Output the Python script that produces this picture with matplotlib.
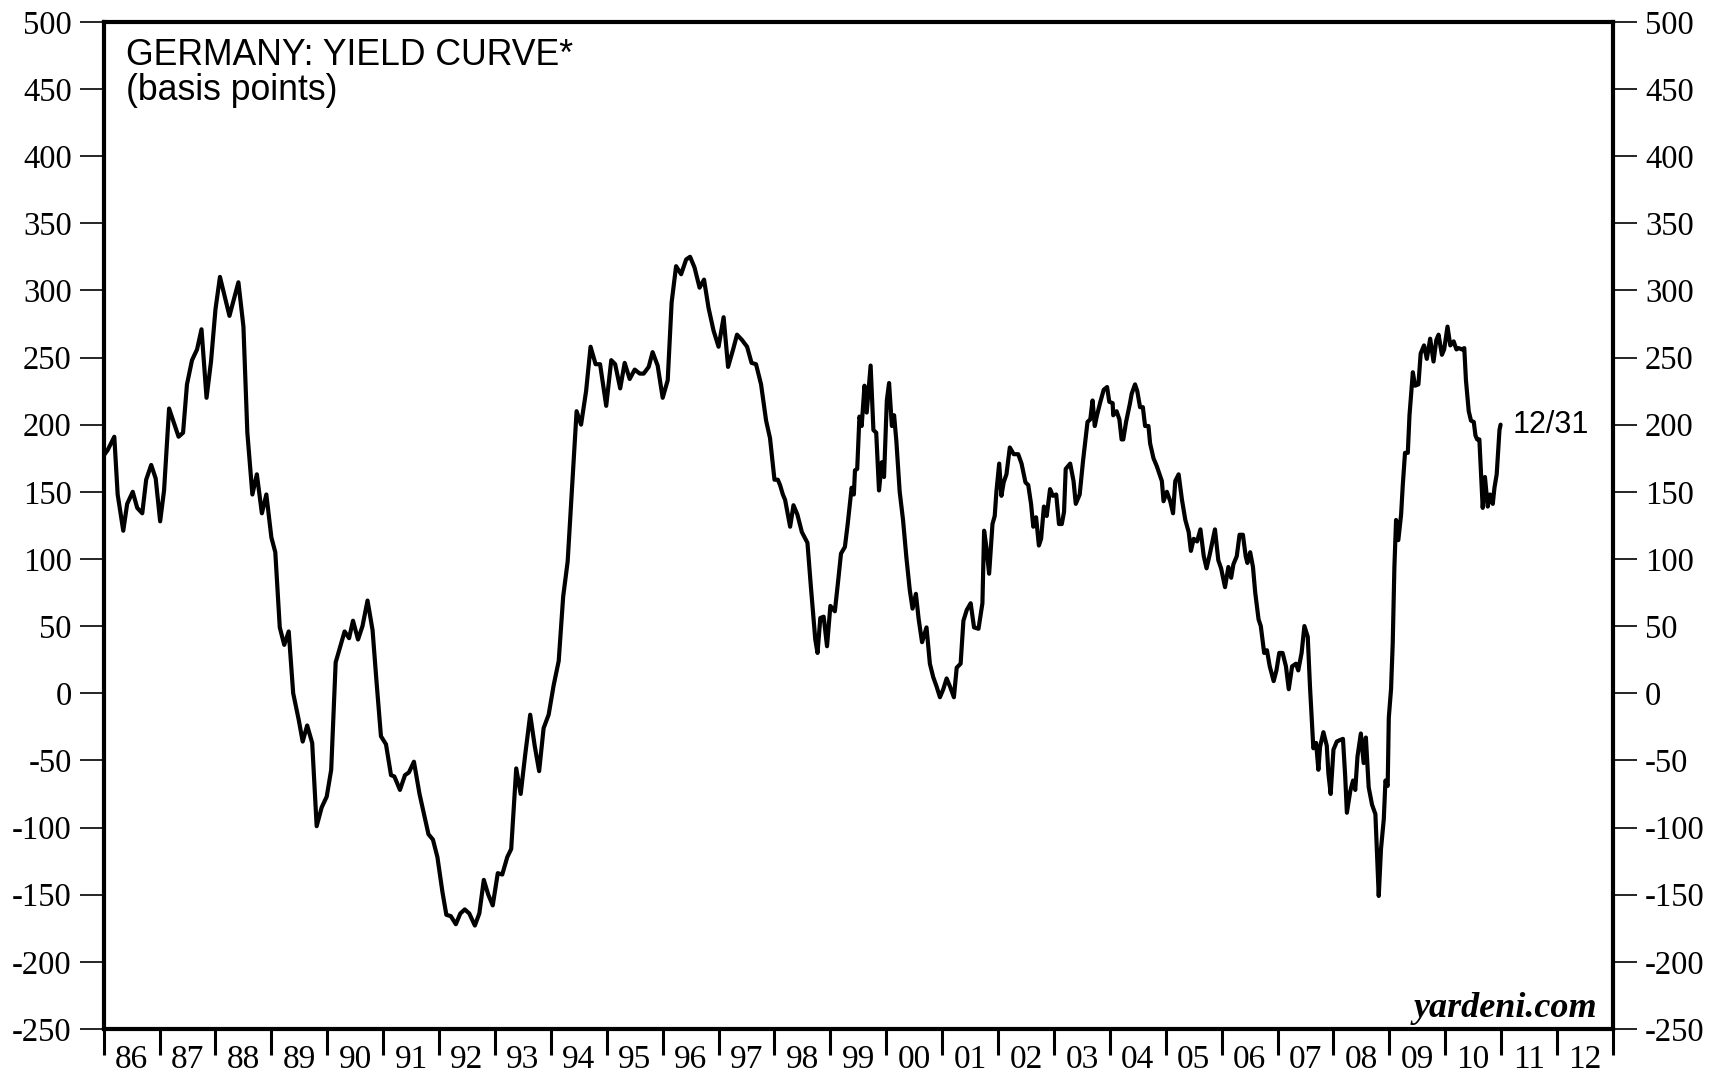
import matplotlib.pyplot as plt
from matplotlib.ticker import NullFormatter

plt.rcParams['font.family'] = ['Liberation Serif', 'DejaVu Serif']

# Germany yield curve (10yr minus short rate), basis points.
years = [
    1986.00, 1986.07, 1986.19, 1986.25, 1986.35, 1986.42, 1986.52, 1986.60, 1986.69, 1986.76,
    1986.85, 1986.93, 1987.01, 1987.08, 1987.17, 1987.34, 1987.42, 1987.49, 1987.58, 1987.67,
    1987.75, 1987.84, 1987.92, 1988.00, 1988.08, 1988.25, 1988.41, 1988.50, 1988.57, 1988.66,
    1988.74, 1988.83, 1988.91, 1989.00, 1989.07, 1989.15, 1989.23, 1989.31, 1989.39, 1989.49,
    1989.56, 1989.64, 1989.73, 1989.81, 1989.90, 1989.99, 1990.07, 1990.15, 1990.24, 1990.31,
    1990.39, 1990.46, 1990.55, 1990.63, 1990.72, 1990.81, 1990.88, 1990.96, 1991.05, 1991.14,
    1991.20, 1991.30, 1991.39, 1991.46, 1991.55, 1991.65, 1991.81, 1991.89, 1991.97, 1992.06,
    1992.13, 1992.21, 1992.30, 1992.38, 1992.46, 1992.54, 1992.64, 1992.72, 1992.80, 1992.88,
    1992.96, 1993.05, 1993.13, 1993.22, 1993.29, 1993.38, 1993.46, 1993.54, 1993.63, 1993.71,
    1993.79, 1993.87, 1993.96, 1994.05, 1994.14, 1994.22, 1994.30, 1994.38, 1994.46, 1994.54,
    1994.63, 1994.71, 1994.80, 1994.88, 1994.99, 1995.08, 1995.15, 1995.24, 1995.32, 1995.41,
    1995.50, 1995.59, 1995.66, 1995.75, 1995.82, 1995.91, 1996.00, 1996.09, 1996.16, 1996.24,
    1996.33, 1996.42, 1996.49, 1996.57, 1996.66, 1996.74, 1996.82, 1996.91, 1997.00, 1997.09,
    1997.17, 1997.26, 1997.33, 1997.42, 1997.51, 1997.59, 1997.67, 1997.76, 1997.85, 1997.92,
    1998.00, 1998.06, 1998.10, 1998.15, 1998.19, 1998.28, 1998.34, 1998.41, 1998.49, 1998.59,
    1998.65, 1998.73, 1998.77, 1998.82, 1998.88, 1998.94, 1999.00, 1999.08, 1999.14, 1999.19,
    1999.26, 1999.31, 1999.38, 1999.42, 1999.44, 1999.48, 1999.52, 1999.56, 1999.61, 1999.65,
    1999.72, 1999.77, 1999.82, 1999.87, 1999.92, 1999.96, 2000.01, 2000.05, 2000.10, 2000.14,
    2000.18, 2000.24, 2000.30, 2000.36, 2000.42, 2000.47, 2000.53, 2000.58, 2000.64, 2000.72,
    2000.78, 2000.84, 2000.90, 2000.96, 2001.02, 2001.08, 2001.14, 2001.21, 2001.26, 2001.33,
    2001.38, 2001.44, 2001.51, 2001.57, 2001.65, 2001.72, 2001.75, 2001.79, 2001.84, 2001.90,
    2001.94, 2001.97, 2002.02, 2002.06, 2002.10, 2002.15, 2002.21, 2002.28, 2002.36, 2002.42,
    2002.49, 2002.54, 2002.59, 2002.63, 2002.68, 2002.73, 2002.77, 2002.82, 2002.87, 2002.93,
    2002.98, 2003.04, 2003.09, 2003.14, 2003.18, 2003.21, 2003.29, 2003.35, 2003.39, 2003.46,
    2003.52, 2003.60, 2003.65, 2003.69, 2003.73, 2003.77, 2003.83, 2003.89, 2003.95, 2003.99,
    2004.05, 2004.06, 2004.12, 2004.17, 2004.21, 2004.24, 2004.29, 2004.36, 2004.39, 2004.45,
    2004.49, 2004.54, 2004.59, 2004.63, 2004.69, 2004.72, 2004.78, 2004.84, 2004.89, 2004.93,
    2004.96, 2005.02, 2005.08, 2005.13, 2005.17, 2005.23, 2005.29, 2005.35, 2005.41, 2005.45,
    2005.50, 2005.56, 2005.62, 2005.68, 2005.73, 2005.79, 2005.88, 2005.94, 2005.99, 2006.06,
    2006.12, 2006.17, 2006.21, 2006.27, 2006.32, 2006.38, 2006.43, 2006.46, 2006.51, 2006.56,
    2006.60, 2006.66, 2006.70, 2006.76, 2006.81, 2006.86, 2006.93, 2006.98, 2007.03, 2007.09,
    2007.15, 2007.20, 2007.26, 2007.33, 2007.37, 2007.43, 2007.48, 2007.54, 2007.58, 2007.64,
    2007.69, 2007.73, 2007.76, 2007.82, 2007.88, 2007.91, 2007.95, 2008.00, 2008.06, 2008.11,
    2008.17, 2008.21, 2008.24, 2008.30, 2008.35, 2008.39, 2008.43, 2008.49, 2008.54, 2008.58,
    2008.63, 2008.69, 2008.75, 2008.81, 2008.85, 2008.90, 2008.93, 2008.97, 2008.99, 2009.03,
    2009.06, 2009.09, 2009.12, 2009.16, 2009.21, 2009.24, 2009.28, 2009.33, 2009.36, 2009.42,
    2009.46, 2009.52, 2009.56, 2009.62, 2009.67, 2009.73, 2009.79, 2009.84, 2009.88, 2009.94,
    2009.98, 2010.04, 2010.09, 2010.15, 2010.20, 2010.24, 2010.30, 2010.34, 2010.37, 2010.42,
    2010.46, 2010.51, 2010.54, 2010.57, 2010.61, 2010.67, 2010.71, 2010.76, 2010.80, 2010.85,
    2010.88, 2010.92, 2010.97, 2010.99,
]
spread_bp = [
    177, 181, 191, 148, 121, 141, 150, 138, 134, 159,
    170, 160, 128, 151, 212, 191, 194, 230, 248, 256,
    271, 220, 247, 286, 310, 281, 306, 273, 194, 148,
    163, 134, 148, 116, 105, 49, 36, 46, 0, -20,
    -36, -24, -37, -99, -85, -77, -57, 23, 36, 46,
    41, 54, 40, 50, 69, 47, 9, -32, -38, -61,
    -62, -72, -61, -59, -51, -75, -105, -109, -122, -148,
    -165, -166, -172, -164, -161, -164, -173, -164, -139, -150,
    -158, -134, -135, -122, -116, -56, -75, -46, -16, -39,
    -58, -26, -16, 6, 24, 72, 98, 154, 210, 200,
    225, 258, 245, 245, 214, 248, 245, 227, 246, 234,
    241, 238, 238, 243, 254, 244, 220, 233, 291, 318,
    312, 323, 325, 317, 302, 308, 287, 270, 258, 280,
    243, 256, 267, 263, 258, 246, 245, 230, 203, 190,
    159, 159, 155, 148, 144, 124, 140, 133, 120, 112,
    80, 40, 30, 56, 57, 35, 65, 61, 84, 104,
    109, 126, 153, 148, 166, 167, 206, 199, 229, 209,
    244, 196, 194, 151, 172, 161, 218, 231, 199, 207,
    188, 150, 129, 101, 77, 63, 74, 55, 38, 49,
    22, 12, 5, -3, 3, 11, 5, -3, 19, 22,
    54, 62, 67, 49, 48, 67, 121, 109, 89, 126,
    132, 150, 171, 147, 157, 163, 183, 178, 178, 171,
    157, 155, 141, 124, 131, 110, 115, 139, 132, 152,
    147, 148, 126, 126, 135, 167, 171, 158, 141, 148,
    173, 202, 204, 218, 199, 207, 217, 226, 228, 217,
    216, 207, 210, 204, 189, 189, 202, 216, 223, 230,
    225, 213, 213, 199, 199, 186, 175, 169, 163, 158,
    143, 150, 143, 134, 158, 163, 144, 129, 120, 106,
    115, 113, 122, 102, 93, 104, 122, 99, 93, 79,
    94, 86, 96, 102, 118, 118, 102, 97, 105, 94,
    75, 55, 50, 30, 32, 20, 9, 17, 30, 30,
    20, 3, 20, 22, 17, 30, 50, 42, 5, -41,
    -37, -57, -40, -29, -39, -60, -75, -42, -36, -35,
    -34, -62, -89, -73, -65, -72, -47, -30, -52, -33,
    -70, -83, -90, -151, -116, -94, -65, -69, -18, 3,
    37, 94, 129, 114, 133, 155, 179, 179, 207, 239,
    229, 230, 253, 259, 249, 264, 247, 263, 267, 252,
    256, 273, 259, 262, 256, 257, 256, 257, 233, 210,
    203, 202, 192, 189, 189, 138, 161, 139, 148, 141,
    153, 163, 196, 200,
]

y_ticks = list(range(-250, 501, 50))
label_years = list(range(1986, 2013))
x_labels = ['%02d' % (y % 100) for y in label_years]

fig = plt.figure(figsize=(17.11, 10.78), dpi=100)
ax = fig.add_axes([0.0606, 0.0455, 0.8821, 0.9343])

ax.plot(years, spread_bp, color='black', lw=3.0, solid_joinstyle='round', solid_capstyle='round')

ax.set_xlim(1986, 2013)
ax.set_ylim(-250, 500)

# year boundaries get the tick marks, labels sit in the middle of each year
ax.set_xticks(list(range(1986, 2014)))
ax.xaxis.set_major_formatter(NullFormatter())
ax.set_xticks([y + 0.5 for y in label_years], minor=True)
ax.set_xticklabels(x_labels, minor=True)
ax.tick_params(axis='x', which='major', direction='out', length=19, width=2.2)
ax.tick_params(axis='x', which='minor', length=0, pad=11, labelsize=24)

ax.set_yticks(y_ticks)
ax.set_yticklabels([str(v) for v in y_ticks])
ax.tick_params(axis='y', direction='out', length=17, width=1.2, pad=6,
               left=True, right=True, labelleft=True, labelright=True, labelsize=23.5)

for sp in ax.spines.values():
    sp.set_linewidth(3.0)

ax.text(0.0148, 0.9566, 'GERMANY: YIELD CURVE*', transform=ax.transAxes,
        family='Liberation Sans', fontsize=25.7, va='baseline', ha='left')
ax.text(0.0148, 0.922, '(basis points)', transform=ax.transAxes,
        family='Liberation Sans', fontsize=25.7, va='baseline', ha='left')

ax.annotate('12/31', xy=(years[-1], spread_bp[-1]), xytext=(9, 0), textcoords='offset points',
            family='Liberation Sans', fontsize=22, va='center', ha='left')

ax.text(0.9894, 0.0122, 'yardeni.com', transform=ax.transAxes, fontsize=26,
        style='italic', weight='bold', va='baseline', ha='right')

fig.savefig('out.png', dpi=100)
